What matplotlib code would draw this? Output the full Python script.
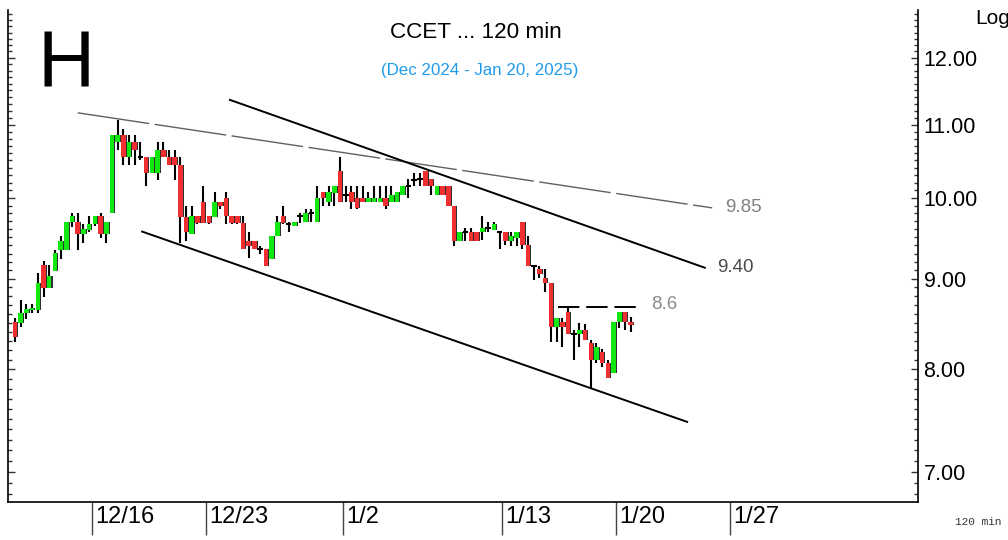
import numpy as np
import matplotlib
matplotlib.use("Agg")
import matplotlib.pyplot as plt
from matplotlib.ticker import FixedLocator, FormatStrFormatter, NullFormatter
from matplotlib.transforms import blended_transform_factory, ScaledTranslation

# 120-min bars, CCET, Dec 2024 - Jan 2025
opens = [8.51, 8.50, 8.61, 8.64, 8.64, 9.16, 8.89, 9.09, 9.34, 9.34,
         9.69, 9.69, 9.54, 9.59, 9.66, 9.76, 9.54, 9.80, 10.75, 10.85,
         10.54, 10.75, 10.54, 10.54, 10.33, 10.33, 10.64, 10.54, 10.54, 10.44,
         9.75, 9.54, 9.76, 9.95, 9.76, 9.75, 9.95, 10.00, 9.76, 9.76,
         9.68, 9.45, 9.45, 9.35, 9.35, 9.23, 9.51, 9.76, 9.66, 9.64,
         9.76, 9.69, 9.81, 9.69, 10.07, 9.94, 10.06, 10.35, 10.04, 10.07,
         10.00, 10.00, 9.94, 9.94, 9.94, 10.00, 9.94, 9.94, 10.04, 10.15,
         10.24, 10.25, 10.35, 10.25, 10.04, 10.15, 10.15, 9.89, 9.45, 9.56,
         9.56, 9.56, 9.56, 9.62, 9.59, 9.56, 9.56, 9.45, 9.49, 9.69,
         9.41, 9.15, 9.11, 9.01, 8.95, 8.45, 8.51, 8.62, 8.37, 8.37,
         8.42, 8.28, 8.10, 8.18, 8.07, 7.96, 8.51, 8.62, 8.51]
highs = [8.55, 8.76, 8.71, 8.71, 9.07, 9.21, 9.16, 9.34, 9.51, 9.69,
         9.81, 9.81, 9.66, 9.76, 9.76, 9.81, 9.69, 10.85, 11.06, 10.94,
         10.85, 10.85, 10.75, 10.54, 10.54, 10.75, 10.75, 10.64, 10.64, 10.54,
         9.89, 9.89, 9.76, 10.15, 9.76, 10.07, 9.95, 10.07, 9.76, 9.76,
         9.76, 9.56, 9.45, 9.39, 9.35, 9.51, 9.76, 9.89, 9.69, 9.69,
         9.81, 9.86, 9.86, 10.15, 10.07, 10.15, 10.15, 10.55, 10.15, 10.15,
         10.15, 10.15, 10.07, 10.15, 10.15, 10.15, 10.15, 10.07, 10.15, 10.25,
         10.33, 10.33, 10.35, 10.25, 10.15, 10.15, 10.15, 9.89, 9.56, 9.62,
         9.62, 9.56, 9.76, 9.69, 9.69, 9.56, 9.56, 9.56, 9.56, 9.69,
         9.51, 9.15, 9.15, 9.11, 8.95, 8.55, 8.55, 8.66, 8.42, 8.50,
         8.48, 8.31, 8.28, 8.21, 8.10, 8.51, 8.62, 8.62, 8.56]
lows = [8.29, 8.45, 8.54, 8.61, 8.61, 8.79, 8.89, 9.09, 9.24, 9.34,
        9.63, 9.34, 9.43, 9.57, 9.64, 9.49, 9.43, 9.80, 10.64, 10.43,
        10.43, 10.43, 10.51, 10.15, 10.33, 10.24, 10.54, 10.43, 10.24, 9.43,
        9.45, 9.54, 9.66, 9.68, 9.66, 9.75, 9.85, 9.66, 9.66, 9.66,
        9.35, 9.25, 9.35, 9.29, 9.15, 9.23, 9.51, 9.66, 9.56, 9.64,
        9.68, 9.69, 9.69, 9.69, 9.89, 9.89, 9.89, 9.94, 9.94, 9.86,
        9.85, 9.94, 9.94, 9.94, 9.94, 9.85, 9.94, 9.94, 10.04, 10.00,
        10.15, 10.15, 10.15, 10.04, 10.04, 10.04, 9.89, 9.39, 9.45, 9.45,
        9.45, 9.45, 9.47, 9.56, 9.59, 9.35, 9.41, 9.39, 9.39, 9.35,
        9.15, 8.99, 9.01, 8.85, 8.29, 8.29, 8.24, 8.37, 8.10, 8.24,
        8.31, 7.81, 8.07, 8.02, 7.91, 7.96, 8.44, 8.42, 8.40]
closes = [8.34, 8.61, 8.65, 8.66, 8.95, 8.89, 9.03, 9.31, 9.45, 9.69,
          9.76, 9.54, 9.60, 9.66, 9.76, 9.54, 9.69, 10.85, 10.85, 10.54,
          10.75, 10.64, 10.53, 10.33, 10.54, 10.64, 10.54, 10.44, 10.44, 9.75,
          9.57, 9.76, 9.68, 9.68, 9.68, 9.95, 9.89, 9.76, 9.68, 9.68,
          9.35, 9.39, 9.35, 9.34, 9.15, 9.51, 9.69, 9.68, 9.65, 9.69,
          9.75, 9.81, 9.80, 10.00, 10.00, 10.07, 10.15, 9.95, 10.03, 9.95,
          9.87, 9.94, 10.00, 10.00, 10.00, 9.89, 10.04, 10.07, 10.15, 10.16,
          10.23, 10.24, 10.15, 10.15, 10.15, 10.04, 9.89, 9.45, 9.56, 9.55,
          9.45, 9.45, 9.62, 9.61, 9.66, 9.55, 9.45, 9.51, 9.56, 9.41,
          9.15, 9.14, 9.05, 8.95, 8.45, 8.55, 8.45, 8.37, 8.36, 8.42,
          8.31, 8.10, 8.23, 8.07, 7.91, 8.51, 8.62, 8.51, 8.47]

# date ticks: first bar index of each labelled session
date_labels = ["12/16", "12/23", "1/2", "1/13", "1/20", "1/27"]
date_bars = [14, 34, 58, 86, 106, 126]

price_ticks = [7, 8, 9, 10, 11, 12]

# trend lines (bar index, price)
resist_thin_x, resist_thin_y = [11.0, 122.3], [11.17, 9.87]
channel_top_x, channel_top_y = [37.7, 121.0], [11.36, 9.13]
channel_bot_x, channel_bot_y = [22.3, 117.9], [9.57, 7.47]
level_x, level_y = [95.3, 109.6], [8.68, 8.68]

GREEN = "#10E810"
RED = "#F03030"

fig = plt.figure(figsize=(10.08, 5.40), dpi=100)
ax = fig.add_axes([8 / 1008, 38 / 540, 910 / 1008, 492 / 540])

x = np.arange(len(opens))
o = np.array(opens)
h = np.array(highs)
l = np.array(lows)
c = np.array(closes)

ax.set_yscale("log")
ax.set_xlim(-1.23, 158.4)
ax.set_ylim(6.73, 12.77)

# wicks
ax.vlines(x, l, h, color="black", lw=1.5, zorder=2)

doji = np.abs(c - o) < 0.015
body = ~doji
up = c >= o
cols = np.where(up, GREEN, RED)
bot = np.minimum(o, c)
top = np.maximum(o, c)

# dark shadow on the right of each body
ax.bar(x[body] + 0.18, (top - bot)[body], bottom=bot[body], width=0.8,
       color="#303030", zorder=3, linewidth=0)
ax.bar(x[body], (top - bot)[body], bottom=bot[body], width=0.8,
       color=cols[body], zorder=4, linewidth=0)
ax.hlines(o[doji], x[doji] - 0.5, x[doji] + 0.5, color="black", lw=1.5, zorder=4)

# trend lines
ax.plot(resist_thin_x, resist_thin_y, color="#606060", lw=1.0,
        dashes=(52, 4), zorder=5)
ax.plot(channel_top_x, channel_top_y, color="black", lw=1.4, zorder=5)
ax.plot(channel_bot_x, channel_bot_y, color="black", lw=1.4, zorder=5)
ax.plot(level_x, level_y, color="black", lw=1.4, dashes=(11, 3.5), zorder=5)

ax.text(124.5, 9.87, "9.85", color="#808080", fontsize=13.5,
        family="Liberation Sans", va="center", ha="left")
ax.text(123.2, 9.13, "9.40", color="#4a4a4a", fontsize=13.5,
        family="Liberation Sans", va="center", ha="left")
ax.text(111.5, 8.70, "8.6", color="#8a8a8a", fontsize=13.5,
        family="Liberation Sans", va="center", ha="left")

# axes styling
ax.spines["top"].set_visible(False)
for side in ("left", "right", "bottom"):
    ax.spines[side].set_linewidth(1.2)
    ax.spines[side].set_color("black")

ax.yaxis.set_major_locator(FixedLocator(price_ticks))
ax.yaxis.set_major_formatter(FormatStrFormatter("%.2f"))
ax.yaxis.set_minor_locator(FixedLocator(np.round(np.arange(6.8, 12.8, 0.1), 2)))
ax.yaxis.set_minor_formatter(NullFormatter())
ax.tick_params(axis="y", which="both", left=True, right=True, labelleft=False,
               labelright=True, direction="in", width=1.0, color="#333333")
ax.tick_params(axis="y", which="major", length=5, pad=4, labelsize=15.5)
ax.tick_params(axis="y", which="minor", length=3)
for lab in ax.get_yticklabels():
    lab.set_family("Liberation Sans")

ax.set_xticks([b - 0.5 for b in date_bars])
ax.set_xticklabels([])
ax.tick_params(axis="x", which="major", direction="out", length=24,
               width=1.0, color="#444444")
trans = blended_transform_factory(ax.transData, ax.transAxes) + \
    ScaledTranslation(3 / 100, -4 / 100, fig.dpi_scale_trans)
for b, lab in zip(date_bars, date_labels):
    ax.text(b - 0.5, 0, lab, transform=trans, ha="left", va="top",
            fontsize=17, family=["Liberation Sans Narrow", "Liberation Sans"],
            color="black")

# titles and annotations
fig.text(476 / 1008, 1 - 32 / 540, "CCET ... 120 min", ha="center", va="center",
         fontsize=16.2, family="Liberation Sans", color="black")
fig.text(480 / 1008, 1 - 70 / 540, "(Dec 2024 - Jan 20, 2025)", ha="center",
         va="center", fontsize=12.2, family="Liberation Sans", color="#1E9BEA")
fig.text(38 / 1008, 1 - 66 / 540, "H", ha="left", va="center", fontsize=57,
         family="Liberation Sans", color="black")
fig.text(975 / 1008, 1 - 18 / 540, "Log", ha="left", va="center", fontsize=15,
         family="Liberation Sans", color="black")
fig.text(955 / 1008, 1 - 522 / 540, "120 min", ha="left", va="center",
         fontsize=8, family="Liberation Mono", color="#333333")

fig.savefig("out.png", dpi=100)
